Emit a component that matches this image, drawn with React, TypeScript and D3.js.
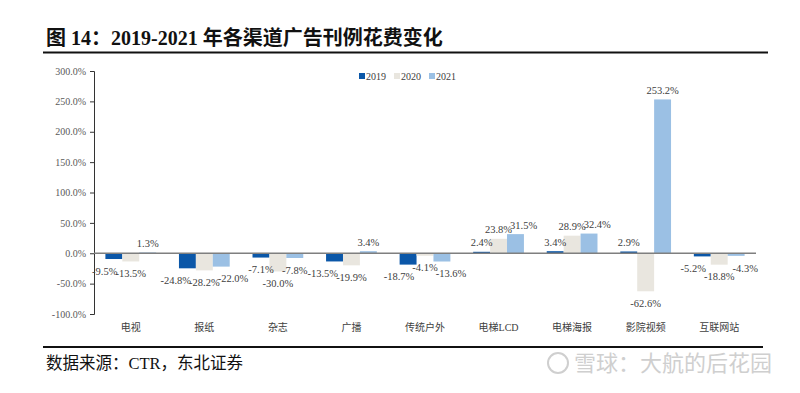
import * as React from "react"
import * as d3 from "d3"

const categories = ["电视", "报纸", "杂志", "广播", "传统户外", "电梯LCD", "电梯海报", "影院视频", "互联网站"]
const years = ["2019", "2020", "2021"]
const values2019 = [-9.5, -24.8, -7.1, -13.5, -18.7, 2.4, 3.4, 2.9, -5.2]
const values2020 = [-13.5, -28.2, -30.0, -19.9, -4.1, 23.8, 28.9, -62.6, -18.8]
const values2021 = [1.3, -22.0, -7.8, 3.4, -13.6, 31.5, 32.4, 253.2, -4.3]
const yTicks = [-100, -50, 0, 50, 100, 150, 200, 250, 300]

const colors = ["#0B57A8", "#E9E6DF", "#9BC0E4"]
const serif = "'Liberation Serif', 'Noto Sans CJK SC', serif"

interface Cell {
    readonly cat: string
    readonly year: string
    readonly value: number
}

interface Label {
    cell: Cell
    x: number
    y: number
    w: number
    node: SVGTextElement
}

const App = (): JSX.Element => {
    const ref = React.useRef<SVGSVGElement | null>(null)

    React.useEffect(() => {
        document.body.style.margin = "0"
        const svg = d3.select(ref.current)
        svg.selectAll("*").remove()

        const series = [values2019, values2020, values2021]
        const cells: Cell[] = []
        categories.forEach((c, i) => {
            years.forEach((yr, j) => cells.push({ cat: c, year: yr, value: series[j][i] }))
        })

        const x0 = d3.scaleBand<string>()
            .domain(categories)
            .range([94, 756])
            .paddingInner(0.31)
            .paddingOuter(0.155)
        const x1 = d3.scaleBand<string>()
            .domain(years)
            .range([0, x0.bandwidth()])
        const y = d3.scaleLinear().domain([-100, 300]).range([314, 71])
        const color = d3.scaleOrdinal<string, string>().domain(years).range(colors)

        // title + rules
        svg.append("text")
            .attr("x", 46).attr("y", 45)
            .attr("font-family", serif)
            .attr("font-weight", "bold")
            .attr("font-size", 20)
            .attr("fill", "#111")
            .text("图 14：2019-2021 年各渠道广告刊例花费变化")
        svg.append("line")
            .attr("x1", 43).attr("x2", 768).attr("y1", 52.5).attr("y2", 52.5)
            .attr("stroke", "#111").attr("stroke-width", 2)
        svg.append("line")
            .attr("x1", 43).attr("x2", 763).attr("y1", 347).attr("y2", 347)
            .attr("stroke", "#111").attr("stroke-width", 2)

        // y axis
        const yAxis = d3.axisLeft(y)
            .tickValues(yTicks)
            .tickSize(4)
            .tickPadding(4)
            .tickFormat((d) => (+d).toFixed(1) + "%")
        const yg = svg.append("g")
            .attr("transform", "translate(94,0)")
            .call(yAxis)
        yg.select(".domain").attr("stroke", "#333")
        yg.selectAll(".tick line").attr("stroke", "#333")
        yg.selectAll(".tick text")
            .attr("font-family", serif)
            .attr("font-size", 10)
            .attr("fill", "#595959")

        // bars
        svg.append("g").selectAll("rect")
            .data(cells)
            .enter()
            .append("rect")
            .attr("x", (d: Cell) => (x0(d.cat) || 0) + (x1(d.year) || 0))
            .attr("y", (d: Cell) => y(Math.max(0, d.value)))
            .attr("width", x1.bandwidth())
            .attr("height", (d: Cell) => Math.abs(y(d.value) - y(0)))
            .attr("fill", (d: Cell) => color(d.year))

        // x axis line
        svg.append("line")
            .attr("x1", 94).attr("x2", 756)
            .attr("y1", y(0)).attr("y2", y(0))
            .attr("stroke", "#7f7f7f").attr("stroke-width", 1.5)

        // data labels, outside end
        const labelSel = svg.append("g").selectAll("text")
            .data(cells)
            .enter()
            .append("text")
            .attr("x", (d: Cell) => (x0(d.cat) || 0) + (x1(d.year) || 0) + x1.bandwidth() / 2)
            .attr("y", (d: Cell) => d.value >= 0 ? y(d.value) - 9 : y(d.value) + 12)
            .attr("dy", "0.35em")
            .attr("text-anchor", "middle")
            .attr("font-family", serif)
            .attr("font-size", 10.5)
            .attr("fill", "#404040")
            .text((d: Cell) => d.value.toFixed(1) + "%")

        // nudge colliding labels sideways: middle one stays, outer ones move out
        const labels: Label[] = []
        labelSel.each(function(d: Cell) {
            const node = this as SVGTextElement
            labels.push({
                cell: d, node,
                x: +node.getAttribute("x")!,
                y: +node.getAttribute("y")!,
                w: node.getComputedTextLength(),
            })
        })
        categories.forEach((c) => {
            const g = labels.filter((l) => l.cell.cat === c)
            const clash = (a: Label, b: Label): number =>
                Math.abs(a.y - b.y) < 10 ? (a.w + b.w) / 2 - (b.x - a.x) - 2 : 0
            const left = clash(g[0], g[1])
            if (left > 0) g[0].x -= left
            const right = clash(g[1], g[2])
            if (right > 0) g[2].x += right
            g.forEach((l) => l.node.setAttribute("x", String(l.x)))
        })

        // category labels
        svg.append("g").selectAll("text")
            .data(categories)
            .enter()
            .append("text")
            .attr("x", (d: string) => (x0(d) || 0) + x0.bandwidth() / 2)
            .attr("y", 327)
            .attr("dy", "0.35em")
            .attr("text-anchor", "middle")
            .attr("font-family", serif)
            .attr("font-size", 10)
            .attr("fill", "#404040")
            .text((d: string) => d)

        // legend
        const legendX = [359, 394, 429]
        const lg = svg.append("g").selectAll("g")
            .data(years)
            .enter()
            .append("g")
            .attr("transform", (d: string, i: number) => "translate(" + legendX[i] + ",76)")
        lg.append("rect")
            .attr("x", 0).attr("y", -3)
            .attr("width", 6).attr("height", 6)
            .attr("fill", (d: string) => color(d))
        lg.append("text")
            .attr("x", 7).attr("dy", "0.35em")
            .attr("font-family", serif)
            .attr("font-size", 10)
            .attr("fill", "#404040")
            .text((d: string) => d)

        // source
        svg.append("text")
            .attr("x", 46).attr("y", 363)
            .attr("dy", "0.35em")
            .attr("font-family", serif)
            .attr("font-size", 16.5)
            .attr("fill", "#111")
            .text("数据来源：CTR，东北证券")

        // watermark
        svg.append("circle")
            .attr("cx", 558).attr("cy", 363).attr("r", 10)
            .attr("fill", "none").attr("stroke", "#cfcfcf").attr("stroke-width", 2)
        svg.append("text")
            .attr("x", 574).attr("y", 363)
            .attr("dy", "0.35em")
            .attr("font-family", "'Noto Sans CJK SC', sans-serif")
            .attr("font-size", 22)
            .attr("fill", "#cfcfcf")
            .text("雪球：大航的后花园")
    }, [])

    return <svg ref={ref} width={800} height={393} style={{ display: "block", background: "#fff" }} />
}

export default App
